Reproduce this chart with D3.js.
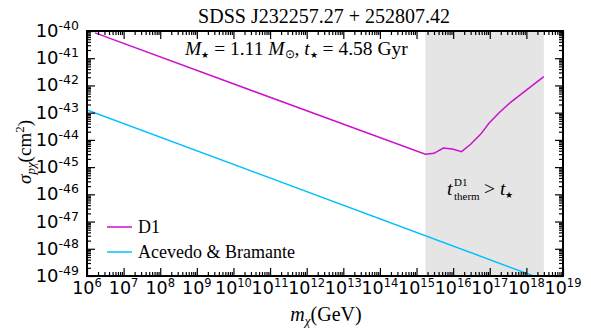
<!DOCTYPE html>
<html>
<head>
<meta charset="utf-8">
<script src="https://cdn.jsdelivr.net/npm/d3@7"></script>
<style>
  body { margin: 0; background: #fff; }
  text { fill: #000; }
</style>
</head>
<body>
<div id="chart"></div>
<script>
// data
var d1Mass  = [1.66e6, 1.74e15, 3.0e15, 5.4e15, 9.5e15, 1.7e16, 3.0e16, 5.6e16, 9.5e16, 1.8e17, 3.7e17, 7.8e17, 3.0e18];
var d1Sigma = [8.5e-41, 2.95e-45, 3.2e-45, 5.0e-45, 4.6e-45, 3.7e-45, 6.9e-45, 1.6e-44, 4.1e-44, 1.0e-43, 2.4e-43, 5.2e-43, 2.1e-42];
var abMass  = [1e6, 2e18];
var abSigma = [1.26e-43, 8.9e-50];
var shadeRange = [1.74e15, 3.0e18];
var xTickExp = d3.range(6, 20);     // 10^6 .. 10^19
var yTickExp = d3.range(-49, -39);  // 10^-49 .. 10^-40

var W = 591, H = 336;
var margin = {top: 31, right: 28, bottom: 60, left: 87},
    width = W - margin.left - margin.right,
    height = H - margin.top - margin.bottom;

var svg = d3.select("#chart").append("svg")
    .attr("width", W).attr("height", H);

var g = svg.append("g")
    .attr("transform", "translate(" + margin.left + "," + margin.top + ")");

var x = d3.scaleLog().domain([1e6, 1e19]).range([0, width]);
var y = d3.scaleLog().domain([1e-49, 1e-40]).range([height, 0]);

g.append("clipPath").attr("id", "clip")
  .append("rect").attr("width", width).attr("height", height);

// shaded region
g.append("rect")
    .attr("x", x(shadeRange[0]))
    .attr("width", x(shadeRange[1]) - x(shadeRange[0]))
    .attr("y", 0).attr("height", height)
    .attr("fill", "#e5e5e5");

var line = d3.line()
    .x(function(d) { return x(d[0]); })
    .y(function(d) { return y(d[1]); });

g.append("path")
    .datum(d3.zip(abMass, abSigma))
    .attr("clip-path", "url(#clip)")
    .attr("fill", "none").attr("stroke", "#00bfff").attr("stroke-width", 1.5)
    .attr("d", line);

g.append("path")
    .datum(d3.zip(d1Mass, d1Sigma))
    .attr("clip-path", "url(#clip)")
    .attr("fill", "none").attr("stroke", "#cc11cc").attr("stroke-width", 1.5)
    .attr("d", line);

// ticks: majors at decades, minors 2..9
function logTicks(lo, hi) {
  var t = [];
  for (var e = lo; e < hi; e++)
    for (var k = 2; k <= 9; k++) t.push(k * Math.pow(10, e));
  return t;
}
var xMinor = logTicks(6, 19), yMinor = logTicks(-49, -40);
var xMajor = xTickExp.map(function(e) { return Math.pow(10, e); });
var yMajor = yTickExp.map(function(e) { return Math.pow(10, e); });

function styleAxis(sel) {
  sel.select(".domain").remove();
  sel.selectAll(".tick line").attr("stroke", "#000").attr("stroke-width", 1.2);
}

// bottom
g.append("g").attr("transform", "translate(0," + height + ")")
  .call(d3.axisTop(x).tickValues(xMinor).tickSize(4).tickFormat(""))
  .call(styleAxis);
g.append("g").attr("transform", "translate(0," + height + ")")
  .call(d3.axisTop(x).tickValues(xMajor).tickSize(8).tickFormat(""))
  .call(styleAxis);
// top
g.append("g").call(d3.axisBottom(x).tickValues(xMinor).tickSize(4).tickFormat("")).call(styleAxis);
g.append("g").call(d3.axisBottom(x).tickValues(xMajor).tickSize(8).tickFormat("")).call(styleAxis);
// left
g.append("g").call(d3.axisRight(y).tickValues(yMinor).tickSize(4).tickFormat("")).call(styleAxis);
g.append("g").call(d3.axisRight(y).tickValues(yMajor).tickSize(8).tickFormat("")).call(styleAxis);
// right
g.append("g").attr("transform", "translate(" + width + ",0)")
  .call(d3.axisLeft(y).tickValues(yMinor).tickSize(4).tickFormat("")).call(styleAxis);
g.append("g").attr("transform", "translate(" + width + ",0)")
  .call(d3.axisLeft(y).tickValues(yMajor).tickSize(8).tickFormat("")).call(styleAxis);

// frame
g.append("rect").attr("width", width).attr("height", height)
  .attr("fill", "none").attr("stroke", "#000").attr("stroke-width", 2);

// tick labels
var sans = "DejaVu Sans";
xTickExp.forEach(function(e) {
  var t = g.append("text")
    .attr("x", x(Math.pow(10, e)))
    .attr("y", height + 18)
    .attr("text-anchor", "middle")
    .attr("font-family", sans).attr("font-size", 17.5);
  t.append("tspan").text("10");
  t.append("tspan").attr("dy", -7).attr("font-size", 11.5).text(e);
});
yTickExp.forEach(function(e) {
  var t = g.append("text")
    .attr("x", -8)
    .attr("y", y(Math.pow(10, e)) + 6)
    .attr("text-anchor", "end")
    .attr("font-family", sans).attr("font-size", 18);
  t.append("tspan").text("10");
  t.append("tspan").attr("dy", -7).attr("font-size", 12.5).text(e);
});

var serif = "Liberation Serif";
var star = "★";

// title
svg.append("text")
    .attr("x", 324).attr("y", 23)
    .attr("text-anchor", "middle")
    .attr("font-family", serif).attr("font-size", 20)
    .text("SDSS J232257.27 + 252807.42");

// star parameters
var ann = svg.append("text")
    .attr("x", 185).attr("y", 55)
    .attr("font-family", serif).attr("font-size", 19.5);
ann.append("tspan").attr("font-style", "italic").text("M");
ann.append("tspan").attr("font-size", 9).attr("dy", 3).text(star);
ann.append("tspan").attr("dy", -3).text(" = 1.11 ");
ann.append("tspan").attr("font-style", "italic").text("M");
ann.append("tspan").attr("font-size", 12).attr("dy", 3).text("⊙");
ann.append("tspan").attr("dy", -3).text(",  ");
ann.append("tspan").attr("font-style", "italic").text("t");
ann.append("tspan").attr("font-size", 9).attr("dy", 3).text(star);
ann.append("tspan").attr("dy", -3).text(" = 4.58 Gyr");

// region label: t^D1_therm > t*
svg.append("text")
    .attr("x", 447).attr("y", 195)
    .attr("font-family", serif).attr("font-size", 19.5)
    .attr("font-style", "italic").text("t");
svg.append("text")
    .attr("x", 454).attr("y", 186)
    .attr("font-family", serif).attr("font-size", 11)
    .text("D1");
svg.append("text")
    .attr("x", 454).attr("y", 200)
    .attr("font-family", serif).attr("font-size", 11)
    .text("therm");
var reg = svg.append("text")
    .attr("x", 484).attr("y", 195)
    .attr("font-family", serif).attr("font-size", 19.5);
reg.append("tspan").text("> ");
reg.append("tspan").attr("font-style", "italic").text("t");
reg.append("tspan").attr("font-size", 9).attr("dy", 3).text(star);

// legend
var legend = [
  {name: "D1", color: "#cc11cc"},
  {name: "Acevedo & Bramante", color: "#00bfff"}
];
legend.forEach(function(l, i) {
  var yy = 227 + i * 25;
  svg.append("line")
    .attr("x1", 107).attr("x2", 132).attr("y1", yy).attr("y2", yy)
    .attr("stroke", l.color).attr("stroke-width", 1.5);
  svg.append("text")
    .attr("x", 138).attr("y", yy + 6)
    .attr("font-family", serif).attr("font-size", 18)
    .text(l.name);
});

// axis titles
var xl = svg.append("text")
    .attr("x", 326).attr("y", 321)
    .attr("text-anchor", "middle")
    .attr("font-family", serif).attr("font-size", 20);
xl.append("tspan").attr("font-style", "italic").text("m");
xl.append("tspan").attr("font-style", "italic").attr("font-size", 13).attr("dy", 4).text("χ");
xl.append("tspan").attr("dy", -4).text("(GeV)");

var yl = svg.append("text")
    .attr("transform", "translate(31,152) rotate(-90)")
    .attr("text-anchor", "middle")
    .attr("font-family", serif).attr("font-size", 19);
yl.append("tspan").attr("font-style", "italic").text("σ");
yl.append("tspan").attr("font-style", "italic").attr("font-size", 13).attr("dy", 4).text("pχ");
yl.append("tspan").attr("dy", -4).text("(cm");
yl.append("tspan").attr("font-size", 13).attr("dy", -7).text("2");
yl.append("tspan").attr("dy", 7).text(")");
</script>
</body>
</html>
